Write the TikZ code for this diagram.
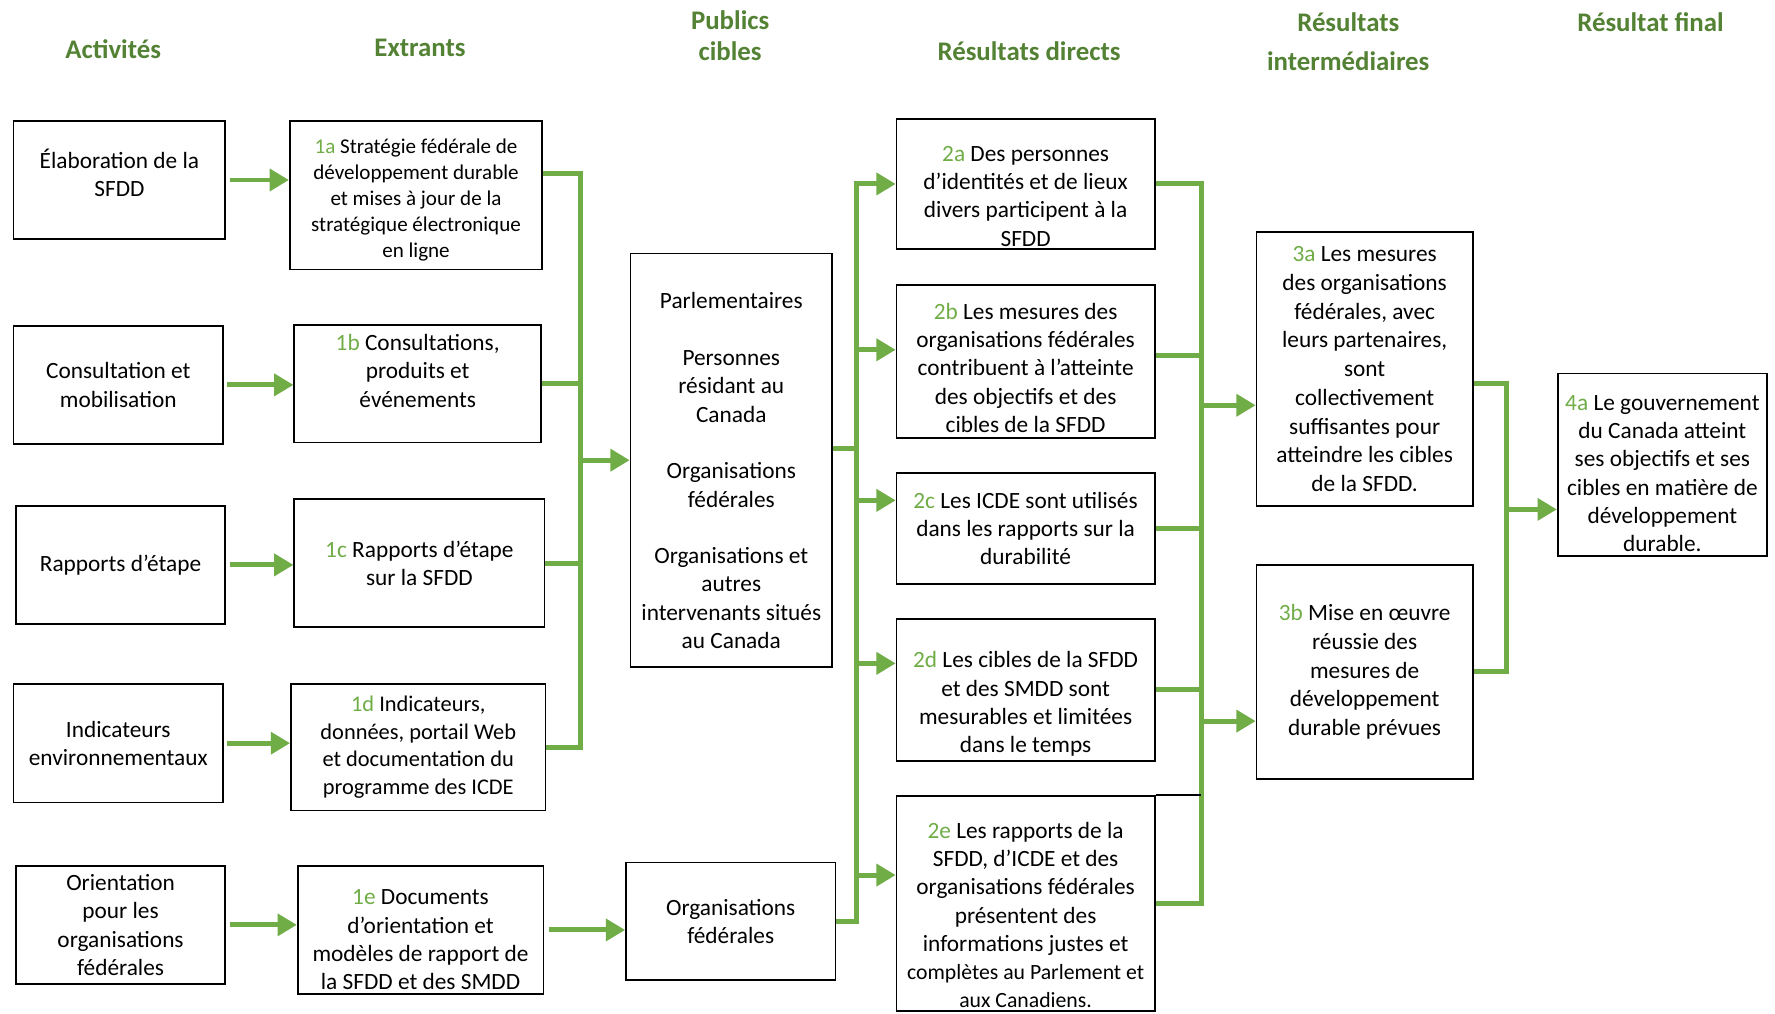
\documentclass[tikz,border=0pt]{standalone}
\usepackage{fontspec}
\setmainfont{Carlito}
\usetikzlibrary{arrows.meta}
\definecolor{headgreen}{RGB}{84,130,53}
\definecolor{linkgreen}{RGB}{112,173,71}
\tikzset{
boxnode/.style={rectangle, draw=black, line width=1.5pt, align=center, inner xsep=3pt, inner ysep=0pt, font=\fontsize{20.6}{25}\selectfont},
headnode/.style={align=center, text=headgreen, font=\bfseries\fontsize{23.7}{27}\selectfont},
boxline/.style={draw=black, line width=1.5pt},
link/.style={draw=linkgreen, line width=4.4pt},
linkarrow/.style={link, -{Triangle[length=17pt,width=19pt]}}
}
\newcommand{\numlbl}[1]{\textcolor{linkgreen}{#1}}
\newcommand{\pushdown}[1]{\mbox{}\\[#1]}
\newcommand{\pushup}[1]{\\[#1]\mbox{}}

\begin{document}
\begin{tikzpicture}[x=1pt,y=-1pt]
\fill[white] (0,0) rectangle (1568,895);
\useasboundingbox (0,0) rectangle (1568,895);
%Headings
\node (hAct) [headnode] at (100,43) {Activités};
\node (hExt) [headnode] at (371,42) {Extrants};
\node (hPub) [headnode] at (645,31.5) {Publics\\cibles};
\node (hDir) [headnode] at (909,45) {Résultats directs};
\node (hInt) [headnode] at (1191,37) {Résultats\\[7pt]intermédiaires};
\node (hFin) [headnode] at (1458,20) {Résultat final};

%Activities
\node (A1) [boxnode, minimum width=187pt, minimum height=104pt] at (105.5,159) {Élaboration de la\\SFDD\pushup{-12pt}};
\node (A2) [boxnode, minimum width=185pt, minimum height=104pt] at (104.5,340) {Consultation et\\mobilisation};
\node (A3) [boxnode, minimum width=185pt, minimum height=104pt] at (106.5,499) {Rapports d’étape};
\node (A4) [boxnode, minimum width=185pt, minimum height=105pt] at (104.5,656.5) {Indicateurs\\environnementaux};
\node (A5) [boxnode, minimum width=185pt, minimum height=104pt] at (106.5,817) {Orientation\\pour les\\organisations\\fédérales};

%Outputs
\node (O1a) [boxnode, minimum width=223pt, minimum height=131pt, font=\fontsize{18.6}{23}\selectfont] at (367.5,172.5) {\pushdown{-1.5pt}\numlbl{1a} Stratégie fédérale de\\développement durable\\et mises à jour de la\\stratégique électronique\\en ligne};
\node (O1b) [boxnode, minimum width=218pt, minimum height=104pt] at (369,339) {\numlbl{1b} Consultations,\\produits et\\événements\pushup{-2pt}};
\node (O1c) [boxnode, minimum width=221pt, minimum height=113pt] at (370.5,497.5) {\numlbl{1c} Rapports d’étape\\sur la SFDD};
\node (O1d) [boxnode, minimum width=225pt, minimum height=112pt, font=\fontsize{19.8}{24.5}\selectfont] at (369.5,660) {\numlbl{1d} Indicateurs,\\données, portail Web\\et documentation du\\programme des ICDE};
\node (O1e) [boxnode, minimum width=217pt, minimum height=113pt] at (371.5,821.5) {\pushdown{6pt}\numlbl{1e} Documents\\d’orientation et\\modèles de rapport de\\la SFDD et des SMDD};

%Target publics
\node (P1) [boxnode, minimum width=178pt, minimum height=365pt] at (646,406.5) {\pushdown{8pt}Parlementaires\\[25pt]Personnes\\résidant au\\Canada\\[25pt]Organisations\\fédérales\\[25pt]Organisations et\\autres\\intervenants situés\\au Canada};
\node (P2) [boxnode, minimum width=185pt, minimum height=104pt] at (645.5,814) {Organisations\\fédérales};

%Direct results
\node (R2a) [boxnode, minimum width=228pt, minimum height=115pt] at (906,162.5) {\pushdown{10pt}\numlbl{2a} Des personnes\\d’identités et de lieux\\divers participent à la\\SFDD};
\node (R2b) [boxnode, minimum width=228pt, minimum height=135pt] at (906,319.5) {\pushdown{0pt}\numlbl{2b} Les mesures des\\organisations fédérales\\contribuent à l’atteinte\\des objectifs et des\\cibles de la SFDD};
\node (R2c) [boxnode, minimum width=228pt, minimum height=98pt] at (906,467) {\numlbl{2c} Les ICDE sont utilisés\\dans les rapports sur la\\durabilité};
\node (R2d) [boxnode, minimum width=228pt, minimum height=125pt] at (906,609.5) {\pushdown{14pt}\numlbl{2d} Les cibles de la SFDD\\et des SMDD sont\\mesurables et limitées\\dans le temps};
\node (R2e) [boxnode, minimum width=228pt, minimum height=190pt] at (906,798) {\pushdown{10pt}\numlbl{2e} Les rapports de la\\SFDD, d’ICDE et des\\organisations fédérales\\présentent des\\informations justes et\\{\fontsize{19.2}{25}\selectfont complètes au Parlement et}\\{\fontsize{19.2}{25}\selectfont aux Canadiens.}};

%Intermediate results
\node (R3a) [boxnode, minimum width=191pt, minimum height=242pt, font=\fontsize{20.6}{25.4}\selectfont] at (1205.5,326) {\numlbl{3a} Les mesures\\des organisations\\fédérales, avec\\leurs partenaires,\\sont\\collectivement\\suffisantes pour\\atteindre les cibles\\de la SFDD.};
\node (R3b) [boxnode, minimum width=191pt, minimum height=189pt, font=\fontsize{20.6}{25.5}\selectfont] at (1205.5,593.5) {\numlbl{3b} Mise en œuvre\\réussie des\\mesures de\\développement\\durable prévues};

%Final result
\node (R4a) [boxnode, minimum width=185pt, minimum height=161pt] at (1468.5,410.5) {\pushdown{4pt}\numlbl{4a} Le gouvernement\\du Canada atteint\\ses objectifs et ses\\cibles en matière de\\développement\\durable.};

%Lines
\draw[linkarrow, shorten <=3pt] (A1.east) -- (A1.east -| O1a.west);
\draw[linkarrow, shorten <=3pt] (A2.east) -- (A2.east -| O1b.west);
\draw[linkarrow, shorten <=3pt] (A3.east) -- (A3.east -| O1c.west);
\draw[linkarrow, shorten <=3pt] (A4.east) -- (A4.east -| O1d.west);
\draw[linkarrow, shorten <=3pt] (A5.east) -- (A5.east -| O1e.west);

\coordinate (bus1) at (513,0);
\coordinate (out1a) at ([yshift=19.5pt]O1a.east);
\draw[link] (out1a) -| (bus1 |- O1d.east) -- (O1d.east);
\draw[link] (O1b.east) -- (O1b.east -| bus1);
\draw[link] (O1c.east) -- (O1c.east -| bus1);
\draw[linkarrow] (bus1 |- P1.west) -- (P1.west);
\draw[linkarrow, shorten <=4pt] (O1e.east) -- (O1e.east -| P2.west);

\coordinate (bus2) at (757,0);
\coordinate (outP1) at ([yshift=10.5pt]P1.east);
\coordinate (in2b) at ([yshift=10.5pt]R2b.west);
\coordinate (in2c) at ([yshift=25pt]R2c.west);
\coordinate (in2d) at ([yshift=23.5pt]R2d.west);
\coordinate (in2e) at ([yshift=25pt]R2e.west);
\draw[linkarrow] (P2.east) -| (bus2 |- R2a.west) -- (R2a.west);
\draw[link] (outP1) -- (outP1 -| bus2);
\foreach \t in {in2b,in2c,in2d,in2e}
  \draw[linkarrow] (bus2 |- \t) -- (\t);

\coordinate (bus3) at (1061,0);
\coordinate (out2b) at ([yshift=5.5pt]R2b.east);
\coordinate (in3a) at ([yshift=-32pt]R3a.west);
\coordinate (in3b) at ([yshift=-43.5pt]R3b.west);
\draw[link] (R2a.east) -| (bus3 |- R2e.east) -- (R2e.east);
\foreach \s in {out2b,R2c.east,R2d.east}
  \draw[link] (\s) -- (\s -| bus3);
\draw[boxline] (R2e.north east) -- (R2e.north east -| bus3);
\draw[linkarrow] (bus3 |- in3a) -- (in3a);
\draw[linkarrow] (bus3 |- in3b) -- (in3b);

\coordinate (bus4) at (1331,0);
\coordinate (out3a) at ([yshift=-13pt]R3a.east);
\coordinate (in4a) at ([yshift=-39.5pt]R4a.west);
\draw[link] (out3a) -| (bus4 |- R3b.east) -- (R3b.east);
\draw[linkarrow] (bus4 |- in4a) -- (in4a);
\end{tikzpicture}
\end{document}
